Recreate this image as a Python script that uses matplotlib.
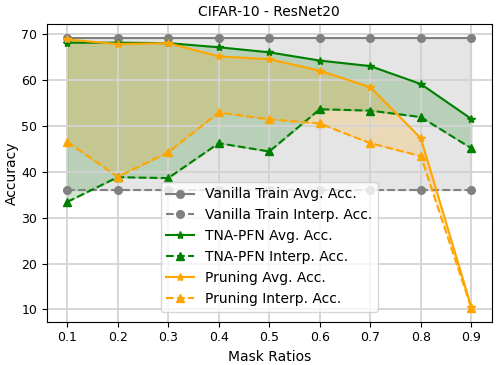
import numpy as np
import matplotlib
matplotlib.use("Agg")
import matplotlib.pyplot as plt

# Datos
mask_ratios = [0.1, 0.2, 0.3, 0.4, 0.5, 0.6, 0.7, 0.8, 0.9]
vanilla_avg = [69.2] * 9
vanilla_interp = [36.1] * 9
tna_avg = [68.1, 68.1, 68.0, 67.1, 66.0, 64.2, 63.0, 59.1, 51.5]
tna_interp = [33.4, 38.8, 38.6, 46.2, 44.4, 53.6, 53.3, 51.9, 45.1]
pruning_avg = [68.8, 67.8, 68.0, 65.1, 64.5, 62.0, 58.4, 47.3, 10.5]
pruning_interp = [46.5, 38.9, 44.2, 52.9, 51.4, 50.5, 46.2, 43.4, 10.3]

ms = 5.5

fig = plt.figure(figsize=(4.99, 3.65), dpi=100)
ax = fig.add_axes([0.094, 0.119, 0.891, 0.815])

ax.plot(mask_ratios, vanilla_avg, color="gray", marker="o", markersize=ms, label="Vanilla Train Avg. Acc.")
ax.plot(mask_ratios, vanilla_interp, color="gray", marker="o", markersize=ms, linestyle="--", label="Vanilla Train Interp. Acc.")
ax.fill_between(mask_ratios, vanilla_avg, vanilla_interp, color="gray", alpha=0.2)

ax.plot(mask_ratios, tna_avg, color="green", marker="*", markersize=ms + 0.5, label="TNA-PFN Avg. Acc.")
ax.plot(mask_ratios, tna_interp, color="green", marker="^", markersize=ms, linestyle="--", label="TNA-PFN Interp. Acc.")
ax.fill_between(mask_ratios, tna_avg, tna_interp, color="green", alpha=0.2)

ax.plot(mask_ratios, pruning_avg, color="orange", marker="*", markersize=ms + 0.5, label="Pruning Avg. Acc.")
ax.plot(mask_ratios, pruning_interp, color="orange", marker="^", markersize=ms, linestyle="--", label="Pruning Interp. Acc.")
ax.fill_between(mask_ratios, pruning_avg, pruning_interp, color="orange", alpha=0.2)

ax.set_xticks(mask_ratios)
ax.tick_params(labelsize=9)
ax.set_xlabel("Mask Ratios", fontsize=10)
ax.set_ylabel("Accuracy", fontsize=10, labelpad=1.5)
ax.set_title("CIFAR-10 - ResNet20", fontsize=10)
ax.grid(True, color="lightgray", linewidth=1.3)
ax.legend(loc="lower center", fontsize=10, bbox_to_anchor=(0.5, 0.01))

plt.savefig("out.png", dpi=100)
